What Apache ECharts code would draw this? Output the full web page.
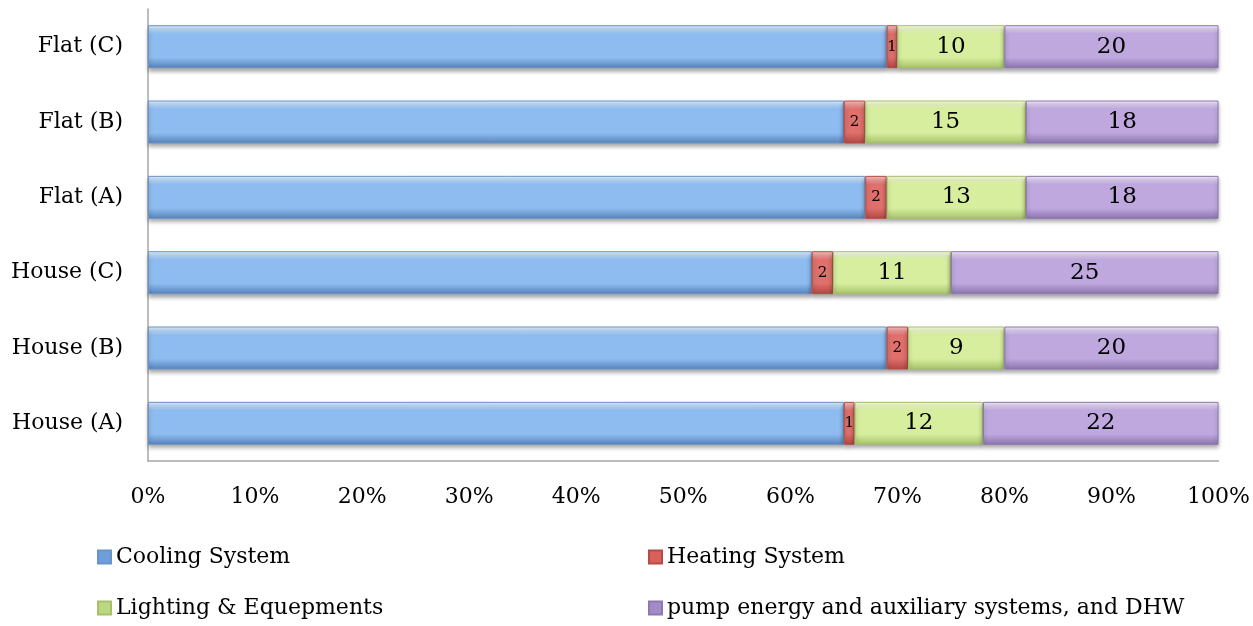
<!DOCTYPE html>
<html><head><meta charset="utf-8">
<script src="https://cdn.jsdelivr.net/npm/echarts@6/dist/echarts.min.js"></script>
<style>html,body{margin:0;padding:0;background:#fff}#c{width:1253px;height:626px}</style>
</head><body><div id="c"></div>
<script>
const categories = ['House (A)', 'House (B)', 'House (C)', 'Flat (A)', 'Flat (B)', 'Flat (C)'];
const seriesNames = ['Cooling System', 'Heating System', 'Lighting & Equepments', 'pump energy and auxiliary systems, and DHW'];
const cooling = [65, 69, 62, 67, 65, 69];
const heating = [1, 2, 2, 2, 2, 1];
const lighting = [12, 9, 11, 13, 15, 10];
const pump = [22, 20, 25, 18, 18, 20];
const xTicks = [0, 10, 20, 30, 40, 50, 60, 70, 80, 90, 100];

const FONT = 'DejaVu Serif';
function grad(top, mid, bot) {
  return new echarts.graphic.LinearGradient(0, 0, 0, 1, [
    {offset: 0, color: top}, {offset: 0.2, color: mid}, {offset: 0.75, color: mid}, {offset: 1, color: bot}
  ]);
}
const styles = [
  {c: grad('#e2f3ff', '#8fbcf0', '#5682bb'), b: '#6a93c9', lc: '#6f9fdb'},
  {c: grad('#fbc6c3', '#df706b', '#b24642'), b: '#b84a46', lc: '#d9605b'},
  {c: grad('#fbffe8', '#d6ee9e', '#a6c16a'), b: '#a7c06a', lc: '#bcd882'},
  {c: grad('#f7eeff', '#bea8de', '#8c74ae'), b: '#8f78b2', lc: '#a48bc8'}
];
const dataArr = [cooling, heating, lighting, pump];

const series = dataArr.map((d, i) => ({
  name: seriesNames[i],
  type: 'bar',
  stack: 'total',
  barWidth: '57%',
  data: d,
  itemStyle: {color: styles[i].c, borderColor: styles[i].b, borderWidth: 1,
    shadowColor: 'rgba(0,0,0,0.35)', shadowBlur: 4, shadowOffsetY: 3},
  label: {
    show: i > 0, position: 'inside', color: '#000', fontFamily: FONT,
    fontSize: i === 1 ? 15 : 23
  },
  emphasis: {disabled: true}
}));

const legendPos = [
  {left: 97, top: 546}, {left: 648, top: 546}, {left: 97, top: 597}, {left: 648, top: 597}
];
const legends = seriesNames.map((n, i) => ({
  data: [{name: n, itemStyle: {color: styles[i].lc}}],
  left: legendPos[i].left, top: legendPos[i].top, padding: 0,
  icon: 'rect', itemWidth: 13, itemHeight: 13, itemGap: 4,
  selectedMode: false,
  textStyle: {fontFamily: FONT, fontSize: 22, color: '#000', padding: [0, 0, 0, 0]}
}));

const chart = echarts.init(document.getElementById('c'));
chart.setOption({
  animation: false,
  legend: legends,
  grid: {left: 148, right: 34, top: 9, bottom: 165},
  xAxis: {
    type: 'value', min: 0, max: 100, interval: 10,
    axisLine: {show: true, lineStyle: {color: '#a6a6a6', width: 1.5}},
    axisTick: {show: false}, splitLine: {show: false},
    axisLabel: {fontFamily: FONT, fontSize: 22, color: '#000', margin: 25,
      formatter: v => xTicks.includes(v) ? v + '%' : ''}
  },
  yAxis: {
    type: 'category', data: categories,
    axisLine: {show: true, lineStyle: {color: '#a6a6a6', width: 1.5}},
    axisTick: {show: false},
    axisLabel: {fontFamily: FONT, fontSize: 22, color: '#000', margin: 25}
  },
  series: series
});
</script></body></html>
